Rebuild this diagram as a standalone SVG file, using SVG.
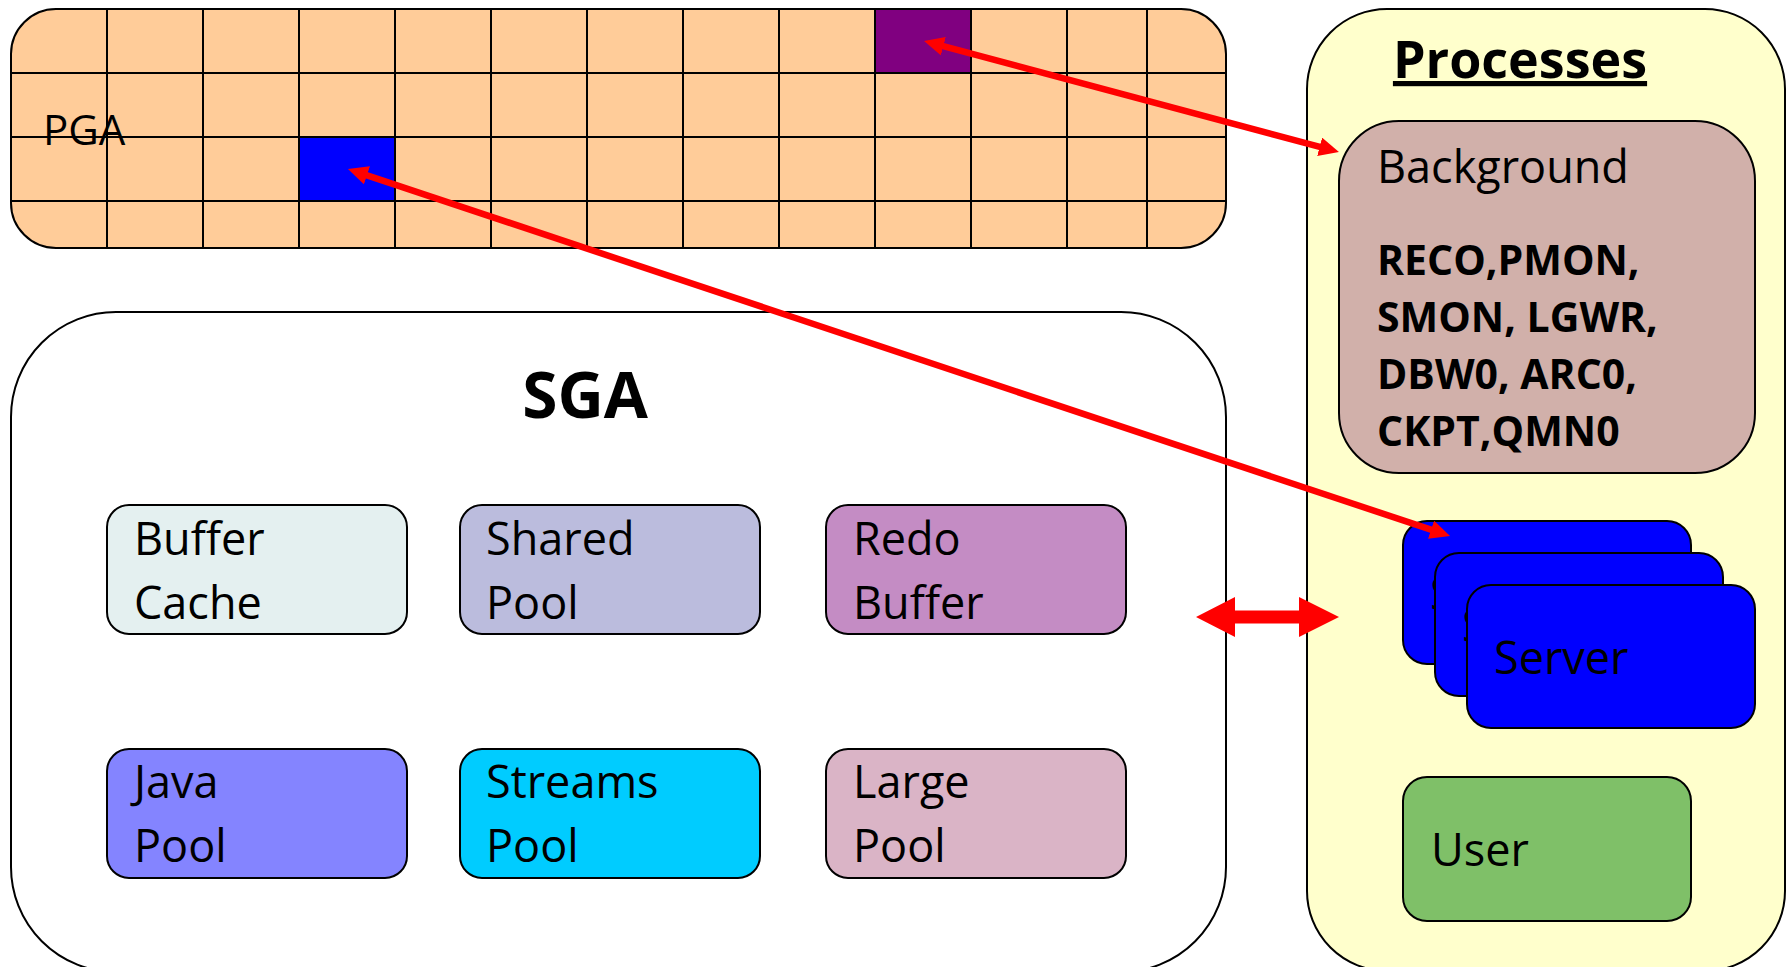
<svg xmlns="http://www.w3.org/2000/svg" width="1787" height="967" viewBox="0 0 1787 967">
<style>
text{font-family:"Open Sans","Noto Sans","Liberation Sans",sans-serif;fill:#000}
.lbl{font-size:45px}
.bold{font-weight:bold}
.box{stroke:#000;stroke-width:2}
.grid{stroke:#000;stroke-width:2}
.arrow{stroke:#FF0000;stroke-width:6.5;fill:none}
</style>
<defs>
<clipPath id="pgaClip"><rect x="11" y="9" width="1215" height="239" rx="45" ry="45"/></clipPath>
<marker id="head" viewBox="0 0 20 19" refX="7" refY="9.5" markerWidth="20" markerHeight="19" markerUnits="userSpaceOnUse" orient="auto-start-reverse">
<path d="M0,0 L20,9.5 L0,19 z" fill="#FF0000"/>
</marker>
</defs>

<g id="pga">
<rect x="11" y="9" width="1215" height="239" rx="45" ry="45" fill="#FFCC99"/>
<g clip-path="url(#pgaClip)">
<rect x="299" y="137" width="96" height="64" fill="#0000FF"/>
<rect x="875" y="9" width="96" height="64" fill="#800080"/>
<g class="grid">
<line x1="107" y1="0" x2="107" y2="260"/><line x1="203" y1="0" x2="203" y2="260"/><line x1="299" y1="0" x2="299" y2="260"/><line x1="395" y1="0" x2="395" y2="260"/><line x1="491" y1="0" x2="491" y2="260"/><line x1="587" y1="0" x2="587" y2="260"/><line x1="683" y1="0" x2="683" y2="260"/><line x1="779" y1="0" x2="779" y2="260"/><line x1="875" y1="0" x2="875" y2="260"/><line x1="971" y1="0" x2="971" y2="260"/><line x1="1067" y1="0" x2="1067" y2="260"/><line x1="1147" y1="0" x2="1147" y2="260"/>
<line x1="0" y1="73" x2="1240" y2="73"/><line x1="0" y1="137" x2="1240" y2="137"/><line x1="0" y1="201" x2="1240" y2="201"/>
</g>
</g>
<rect x="11" y="9" width="1215" height="239" rx="45" ry="45" fill="none" class="box"/>
<text x="43" y="145" font-size="42">PGA</text>
</g>

<g id="sga">
<rect x="11" y="312" width="1215" height="660" rx="105" ry="105" fill="#FFFFFF" class="box"/>
<text x="585" y="418" font-size="64" class="bold" text-anchor="middle">SGA</text>
</g>

<g id="buffer-cache">
<rect x="107" y="505" width="300" height="129" rx="22" fill="#E4F0F0" class="box"/>
<text class="lbl" x="134" y="555">Buffer</text><text class="lbl" x="134" y="619">Cache</text>
</g>
<g id="shared-pool">
<rect x="460" y="505" width="300" height="129" rx="22" fill="#BBBCDD" class="box"/>
<text class="lbl" x="486" y="555">Shared</text><text class="lbl" x="486" y="619">Pool</text>
</g>
<g id="redo-buffer">
<rect x="826" y="505" width="300" height="129" rx="22" fill="#C48CC4" class="box"/>
<text class="lbl" x="853" y="555">Redo</text><text class="lbl" x="853" y="619">Buffer</text>
</g>
<g id="java-pool">
<rect x="107" y="749" width="300" height="129" rx="22" fill="#8484FF" class="box"/>
<text class="lbl" x="134" y="798">Java</text><text class="lbl" x="134" y="862">Pool</text>
</g>
<g id="streams-pool">
<rect x="460" y="749" width="300" height="129" rx="22" fill="#00CCFF" class="box"/>
<text class="lbl" x="486" y="798">Streams</text><text class="lbl" x="486" y="862">Pool</text>
</g>
<g id="large-pool">
<rect x="826" y="749" width="300" height="129" rx="22" fill="#DAB4C6" class="box"/>
<text class="lbl" x="853" y="798">Large</text><text class="lbl" x="853" y="862">Pool</text>
</g>

<g id="processes">
<rect x="1307" y="9" width="478" height="962" rx="80" ry="80" fill="#FFFFCC" class="box"/>
<text x="1520" y="78" font-size="52" class="bold" text-anchor="middle" text-decoration="underline" style="text-decoration-thickness:4px;text-underline-offset:6px">Processes</text>
</g>

<g id="background">
<rect x="1339" y="121" width="416" height="352" rx="60" ry="60" fill="#D1B0AA" class="box"/>
<text class="lbl" x="1377" y="183">Background</text>
<text x="1377" y="275" font-size="41" class="bold">RECO,PMON,</text>
<text x="1377" y="332" font-size="41" class="bold">SMON, LGWR,</text>
<text x="1377" y="389" font-size="41" class="bold">DBW0, ARC0,</text>
<text x="1377" y="446" font-size="41" class="bold">CKPT,QMN0</text>
</g>

<g id="server-1">
<rect x="1403" y="521" width="288" height="143" rx="24" ry="24" fill="#0000FF" class="box"/>
<text class="lbl" x="1430" y="610">Server</text>
</g>
<g id="server-2">
<rect x="1435" y="553" width="288" height="143" rx="24" ry="24" fill="#0000FF" class="box"/>
<text class="lbl" x="1462" y="642">Server</text>
</g>
<g id="server-3">
<rect x="1467" y="585" width="288" height="143" rx="24" ry="24" fill="#0000FF" class="box"/>
<text class="lbl" x="1494" y="674">Server</text>
</g>

<g id="user">
<rect x="1403" y="777" width="288" height="144" rx="24" ry="24" fill="#7FC068" class="box"/>
<text class="lbl" x="1431" y="866">User</text>
</g>

<g id="connectors">
<line class="arrow" x1="936.6" y1="44.4" x2="1326.4" y2="148.6" marker-start="url(#head)" marker-end="url(#head)"/>
<line class="arrow" x1="360.3" y1="173.1" x2="1437.7" y2="531.9" marker-start="url(#head)" marker-end="url(#head)"/>
<polygon points="1196,617 1235,597 1235,610.5 1299,610.5 1299,597 1339,617 1299,637 1299,623.5 1235,623.5 1235,637" fill="#FF0000"/>
</g>
</svg>
